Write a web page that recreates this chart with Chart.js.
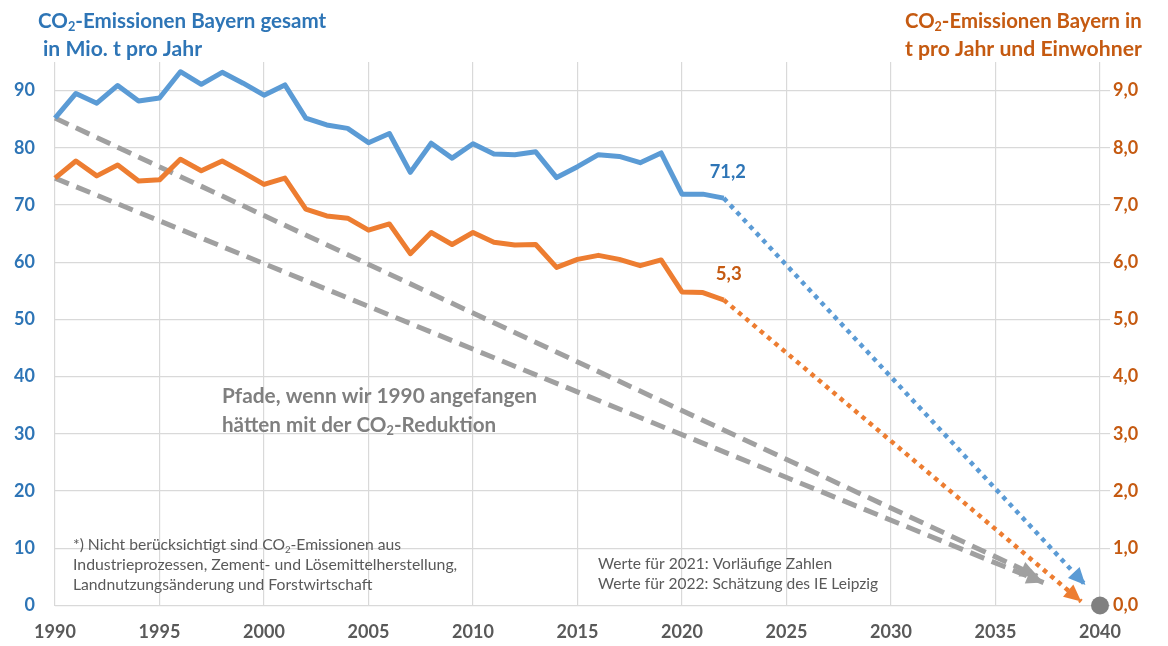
<!DOCTYPE html>
<html><head><meta charset="utf-8">
<script src="https://cdn.jsdelivr.net/npm/chart.js@4/dist/chart.umd.min.js"></script>
<style>html,body{margin:0;padding:0;background:#fff;} #wrap{width:1168px;height:646px;}</style>
</head><body><div id="wrap"><canvas id="c" width="1168" height="646"></canvas></div>
<script>
// ---- data ----
const years = [1990,1991,1992,1993,1994,1995,1996,1997,1998,1999,2000,2001,2002,2003,2004,2005,2006,2007,2008,2009,2010,2011,2012,2013,2014,2015,2016,2017,2018,2019,2020,2021,2022];
const totalMt = [85.2,89.5,87.8,90.9,88.2,88.7,93.3,91.1,93.2,91.3,89.2,91.0,85.2,84.0,83.4,80.9,82.5,75.7,80.8,78.2,80.7,78.9,78.8,79.3,74.8,76.7,78.8,78.5,77.4,79.1,71.9,71.9,71.2];
const perCapita = [7.47,7.77,7.51,7.70,7.42,7.44,7.80,7.60,7.77,7.57,7.36,7.47,6.93,6.81,6.77,6.56,6.67,6.15,6.52,6.31,6.52,6.35,6.30,6.31,5.91,6.05,6.12,6.05,5.94,6.04,5.48,5.47,5.34];
const projTotalX = [2022, 2039.3];
const projTotalY = [71.2, 3.6];
const projCapitaX = [2022, 2039.1];
const projCapitaY = [5.34, 0.07];
const path1990TotalX = [1990, 2037.0];
const path1990TotalY = [85.2, 5.1];
const path1990CapitaX = [1990, 2037.3];
const path1990CapitaY = [74.7, 4.0];
const targetX = [2040];
const targetY = [0];
const xTicks = [1990,1995,2000,2005,2010,2015,2020,2025,2030,2035,2040];
const leftTicks = [0,10,20,30,40,50,60,70,80,90];
const rightTicks = [0,1,2,3,4,5,6,7,8,9];

const BLUE = '#5b9bd5', BLUE_T = '#2e75b6', ORANGE = '#ed7d31', ORANGE_T = '#c55a11', GRAY = '#a0a0a0';
const FONT = 'Lato, "Open Sans", sans-serif';

const pts = (xs, ys) => xs.map((x, i) => ({x, y: ys[i]}));

function richWidth(ctx, text, size, weight) {
  let w = 0;
  for (const ch of text) {
    if (ch === '₂') { ctx.font = `${weight} ${size*0.62}px ${FONT}`; w += ctx.measureText('2').width; }
    else { ctx.font = `${weight} ${size}px ${FONT}`; w += ctx.measureText(ch).width; }
  }
  return w;
}
function drawRich(ctx, text, x, y, size, weight, color, targetW, align) {
  if (targetW) { const w0 = richWidth(ctx, text, size, weight); size = size * targetW / w0; }
  const w = richWidth(ctx, text, size, weight);
  let cx = align === 'right' ? x - w : (align === 'center' ? x - w/2 : x);
  ctx.save();
  ctx.fillStyle = color; ctx.textBaseline = 'middle'; ctx.textAlign = 'left';
  let run = '';
  const flush = () => { if (!run) return; ctx.font = `${weight} ${size}px ${FONT}`; ctx.fillText(run, cx, y); cx += ctx.measureText(run).width; run=''; };
  for (const ch of text) {
    if (ch === '₂') { flush(); ctx.font = `${weight} ${size*0.62}px ${FONT}`; ctx.fillText('2', cx, y + size*0.3); cx += ctx.measureText('2').width; }
    else run += ch;
  }
  flush();
  ctx.restore();
}

const textPlugin = {
  id: 'texts',
  afterDraw(chart) {
    const ctx = chart.ctx;
    const xs = chart.scales.x, yl = chart.scales.y, yr = chart.scales.y1;
    drawRich(ctx, 'CO₂-Emissionen Bayern gesamt', 38, 21, 19, 'bold', BLUE_T, 290);
    drawRich(ctx, 'in Mio. t pro Jahr', 43, 49, 19, 'bold', BLUE_T, 160);
    drawRich(ctx, 'CO₂-Emissionen Bayern in', 905, 21, 19, 'bold', ORANGE_T, 238);
    drawRich(ctx, 't pro Jahr und Einwohner', 905, 49, 19, 'bold', ORANGE_T, 238);
    drawRich(ctx, 'Pfade, wenn wir 1990 angefangen', 222, 396, 19, 'bold', '#7f7f7f', 316);
    drawRich(ctx, 'hätten mit der CO₂-Reduktion', 222, 425, 19, 'bold', '#7f7f7f', 276);
    drawRich(ctx, '*) Nicht berücksichtigt sind CO₂-Emissionen aus', 73, 545, 13, 'normal', '#595959', 329);
    drawRich(ctx, 'Industrieprozessen, Zement- und Lösemittelherstellung,', 73, 565, 13, 'normal', '#595959', 387);
    drawRich(ctx, 'Landnutzungsänderung und Forstwirtschaft', 73, 585, 13, 'normal', '#595959', 301);
    drawRich(ctx, 'Werte für 2021: Vorläufige Zahlen', 598, 564, 13, 'normal', '#595959', 237);
    drawRich(ctx, 'Werte für 2022: Schätzung des IE Leipzig', 598, 584, 13, 'normal', '#595959', 282);
    const lastT = totalMt[totalMt.length-1], lastC = perCapita[perCapita.length-1], lastY = years[years.length-1];
    drawRich(ctx, lastT.toFixed(1).replace('.', ','), xs.getPixelForValue(lastY) - 14, yl.getPixelForValue(lastT) - 26, 20, 'bold', BLUE_T, 36);
    drawRich(ctx, lastC.toFixed(1).replace('.', ','), xs.getPixelForValue(lastY) - 8, yr.getPixelForValue(lastC) - 26, 20, 'bold', ORANGE_T, 26);
  },
  afterDatasetsDraw(chart) {
    const ctx = chart.ctx;
    chart.data.datasets.forEach((ds, i) => {
      if (!ds.arrow) return;
      const meta = chart.getDatasetMeta(i);
      const n = meta.data.length;
      const p1 = meta.data[n-2], p2 = meta.data[n-1];
      const a = Math.atan2(p2.y - p1.y, p2.x - p1.x);
      const L = 17, W = 8;
      ctx.save();
      ctx.translate(p2.x, p2.y); ctx.rotate(a);
      ctx.beginPath(); ctx.moveTo(0, 0); ctx.lineTo(-L, -W); ctx.lineTo(-L, W); ctx.closePath();
      ctx.fillStyle = ds.arrow; ctx.fill();
      ctx.restore();
    });
  }
};

const common = {pointRadius: 0, fill: false, tension: 0, clip: false};
new Chart(document.getElementById('c'), {
  type: 'line',
  data: {
    datasets: [
      {...common, label: 'total', data: pts(years, totalMt), borderColor: BLUE, borderWidth: 5, yAxisID: 'y', order: 1, borderJoinStyle: 'round'},
      {...common, label: 'capita', data: pts(years, perCapita), borderColor: ORANGE, borderWidth: 5, yAxisID: 'y1', order: 2, borderJoinStyle: 'round'},
      {...common, label: 'projTotal', data: pts(projTotalX, projTotalY), borderColor: BLUE, borderWidth: 4.5, borderDash: [4.5, 5], yAxisID: 'y', order: 3, arrow: BLUE},
      {...common, label: 'projCapita', data: pts(projCapitaX, projCapitaY), borderColor: ORANGE, borderWidth: 4.5, borderDash: [4.5, 5], yAxisID: 'y1', order: 4, arrow: ORANGE},
      {...common, label: 'path1990Total', data: pts(path1990TotalX, path1990TotalY), borderColor: GRAY, borderWidth: 5, borderDash: [15, 8], yAxisID: 'y', order: 5, arrow: GRAY},
      {...common, label: 'path1990Capita', data: pts(path1990CapitaX, path1990CapitaY), borderColor: GRAY, borderWidth: 5, borderDash: [15, 8], yAxisID: 'y', order: 6, arrow: GRAY},
      {...common, label: 'target', data: pts(targetX, targetY), showLine: false, pointRadius: 9, pointBackgroundColor: '#808080', pointBorderWidth: 0, yAxisID: 'y', order: 0}
    ]
  },
  options: {
    responsive: false, animation: false,
    layout: {padding: {top: 62, left: 0, right: 0, bottom: 0}},
    plugins: {legend: {display: false}, tooltip: {enabled: false}},
    scales: {
      x: {
        type: 'linear', min: 1990, max: 2040,
        afterBuildTicks: s => { s.ticks = xTicks.map(v => ({value: v})); },
        afterFit: s => { s.height = 40.5; },
        ticks: {callback: v => String(v), color: '#595959', font: {family: FONT, size: 18, weight: 'bold'}, padding: 16, maxRotation: 0, autoSkip: false},
        grid: {color: '#d9d9d9', lineWidth: 1.2, drawTicks: false},
        border: {display: false}
      },
      y: {
        position: 'left', min: 0, max: 95,
        afterBuildTicks: s => { s.ticks = leftTicks.map(v => ({value: v})); },
        afterFit: s => { s.width = 55; },
        ticks: {color: BLUE_T, font: {family: FONT, size: 18, weight: 'bold'}, padding: 20},
        grid: {color: '#d9d9d9', lineWidth: 1.2, drawTicks: false},
        border: {display: false}
      },
      y1: {
        position: 'right', min: 0, max: 9.5,
        afterBuildTicks: s => { s.ticks = rightTicks.map(v => ({value: v})); },
        afterFit: s => { s.width = 68; },
        ticks: {callback: v => v.toFixed(1).replace('.', ','), color: ORANGE_T, font: {family: FONT, size: 18, weight: 'bold'}, padding: 3},
        grid: {drawOnChartArea: false, drawTicks: true, tickLength: 10, color: '#d9d9d9', lineWidth: 1.2},
        border: {display: false}
      }
    }
  },
  plugins: [textPlugin]
});
</script>
</body></html>
